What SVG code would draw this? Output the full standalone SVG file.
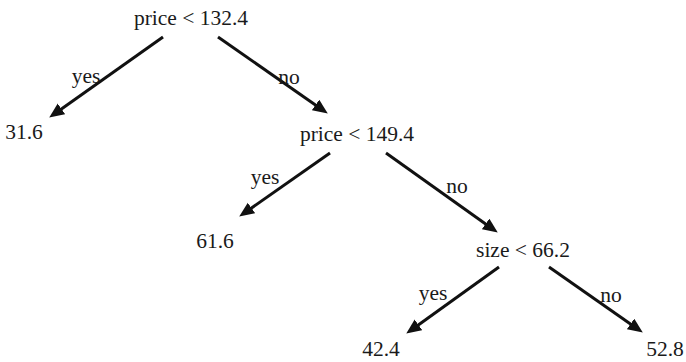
<svg xmlns="http://www.w3.org/2000/svg" width="686" height="362" viewBox="0 0 686 362">
<style>
text{font-family:"Liberation Serif","Times New Roman",serif;font-size:21.5px;fill:#1a1a1a;text-anchor:middle}
.e{stroke:#111;stroke-width:3;fill:none;marker-end:url(#ah)}
</style>
<defs>
<marker id="ah" markerUnits="userSpaceOnUse" markerWidth="16" markerHeight="14" refX="10" refY="6.5" orient="auto">
<path d="M0,0 L15,6.5 L0,13 Z" fill="#111"/>
</marker>
</defs>
<rect width="686" height="362" fill="#fff"/>
<g id="connectors">
<line class="e" x1="163" y1="37" x2="53.3" y2="114.7"/>
<line class="e" x1="218" y1="37" x2="323.7" y2="110.7"/>
<line class="e" x1="330" y1="153" x2="243.3" y2="213.7"/>
<line class="e" x1="386" y1="153" x2="493.7" y2="229.7"/>
<line class="e" x1="499" y1="267" x2="410.3" y2="330.7"/>
<line class="e" x1="549" y1="267" x2="638.7" y2="329.7"/>
<text x="86" y="83">yes</text>
<text x="289" y="84">no</text>
<text x="265" y="184">yes</text>
<text x="457" y="193">no</text>
<text x="433" y="300">yes</text>
<text x="611" y="302">no</text>
</g>
<g id="n1"><text x="191" y="25">price &lt; 132.4</text></g>
<g id="n2"><text x="24" y="139">31.6</text></g>
<g id="n3"><text x="357" y="141">price &lt; 149.4</text></g>
<g id="n4"><text x="215" y="248">61.6</text></g>
<g id="n5"><text x="523" y="257">size &lt; 66.2</text></g>
<g id="n6"><text x="381" y="356">42.4</text></g>
<g id="n7"><text x="665" y="356">52.8</text></g>
</svg>
